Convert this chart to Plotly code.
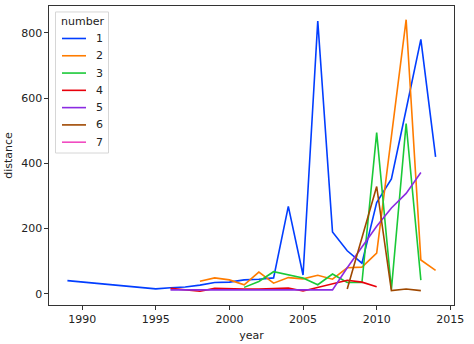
import plotly.graph_objects as go

# Mean discovery distance per year, grouped by number of planets in the system
years_1 = [1989, 1995, 1996, 1997, 1998, 1999, 2000, 2001, 2002, 2003, 2004,
           2005, 2006, 2007, 2008, 2009, 2010, 2011, 2012, 2013, 2014]
dist_1 = [40.6, 15.4, 19, 21, 27, 35, 36, 43, 45, 49, 268,
          58, 836, 190, 132, 94, 280, 352, 565, 780, 420]

years_2 = [1998, 1999, 2000, 2001, 2002, 2003, 2004, 2005, 2006, 2007, 2008,
           2009, 2010, 2011, 2012, 2013, 2014]
dist_2 = [39, 49, 43, 28, 67, 33, 50, 46, 57, 45, 80,
          82, 125, 480, 840, 104, 72]

years_3 = [2001, 2002, 2003, 2004, 2005, 2006, 2007, 2008, 2009, 2010, 2011,
           2012, 2013]
dist_3 = [20, 38, 68, 59, 49, 28, 61, 35, 35, 494, 14, 522, 42]

years_4 = [1996, 1997, 1998, 1999, 2000, 2001, 2002, 2003, 2004, 2005, 2006,
           2007, 2008, 2009, 2010]
dist_4 = [17, 13, 8, 17, 15, 15, 15, 16, 18, 9, 20, 31, 42, 36, 22]

years_5 = [1996, 2002, 2004, 2007, 2008, 2009, 2010, 2011, 2012, 2013]
dist_5 = [12.3, 12.3, 12.3, 12.3, 80, 145, 207, 263, 308, 372]

years_6 = [2008, 2010, 2011, 2012, 2013]
dist_6 = [15, 329, 10, 15, 10]

years_7 = [2010]
dist_7 = [39.4]

groups = ["1", "2", "3", "4", "5", "6", "7"]
series_years = [years_1, years_2, years_3, years_4, years_5, years_6, years_7]
series_dist = [dist_1, dist_2, dist_3, dist_4, dist_5, dist_6, dist_7]

palette = ["#023eff", "#ff7c00", "#1ac938", "#e8000b",
           "#8b2be2", "#9f4800", "#f14cc1"]

x_ticks = [1990, 1995, 2000, 2005, 2010, 2015]
y_ticks = [0, 200, 400, 600, 800]

W, H = 474, 344
ML, MR, MT, MB = 49, 20, 5, 38
PW, PH = W - ML - MR, H - MT - MB


def px_x(px):
    return (px - ML) / PW


def px_y(py):
    return 1 - (py - MT) / PH


fig = go.Figure()
for name, xs, ys, col in zip(groups, series_years, series_dist, palette):
    fig.add_trace(go.Scatter(x=xs, y=ys, mode="lines", name=name,
                             showlegend=False,
                             line=dict(color=col, width=1.6)))

font = dict(family="DejaVu Sans", size=11, color="#222222")

axis_common = dict(showgrid=False, zeroline=False, showline=True,
                   linecolor="#333333", linewidth=0.9, mirror=True,
                   ticks="outside", ticklen=3.6, tickwidth=0.9,
                   tickcolor="#333333", tickfont=font)

# Legend box with title and one sample line per group
shapes = [dict(type="rect", xref="paper", yref="paper",
               x0=px_x(55.5), x1=px_x(108.5), y0=px_y(153), y1=px_y(11),
               line=dict(color="#d6d6d6", width=1),
               fillcolor="rgba(255,255,255,0.8)", layer="above")]
annotations = [dict(text="number", xref="paper", yref="paper",
                    x=px_x(82), y=px_y(21), xanchor="center", yanchor="middle",
                    showarrow=False, font=font)]
row_gap = 17.4
for i, (name, col) in enumerate(zip(groups, palette)):
    yc = 37.7 + i * row_gap
    shapes.append(dict(type="line", xref="paper", yref="paper",
                       x0=px_x(62), x1=px_x(86), y0=px_y(yc), y1=px_y(yc),
                       line=dict(color=col, width=1.6), layer="above"))
    annotations.append(dict(text=name, xref="paper", yref="paper",
                            x=px_x(94), y=px_y(yc), xanchor="left",
                            yanchor="middle", showarrow=False, font=font))

fig.update_layout(
    width=W, height=H,
    margin=dict(l=ML, r=MR, t=MT, b=MB),
    paper_bgcolor="white", plot_bgcolor="white",
    font=font,
    xaxis=dict(range=[1987.75, 2015.25], tickvals=x_ticks,
               title=dict(text="year", font=font, standoff=6),
               **axis_common),
    yaxis=dict(range=[-34, 882], tickvals=y_ticks,
               title=dict(text="distance", font=font, standoff=6),
               **axis_common),
    shapes=shapes,
    annotations=annotations,
)

fig.write_html("out.html")
